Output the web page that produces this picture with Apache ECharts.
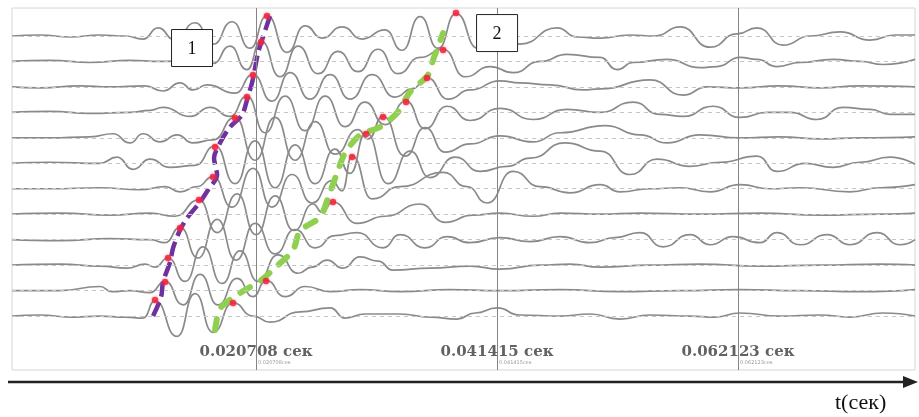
<!DOCTYPE html>
<html><head><meta charset="utf-8">
<script src="https://cdn.jsdelivr.net/npm/echarts@6/dist/echarts.min.js"></script>
<style>html,body{margin:0;padding:0;background:#fff}#c{width:919px;height:417px}</style>
</head><body><div id="c"></div>
<script>
// time in ms, amplitude in arbitrary units (positive = up), per trace
const traceBaselines = [275, 250, 225, 200, 175, 150, 125, 100, 75, 50, 25, 0];
const trace0 = [[-0.26,0],[2.15,1],[4.73,-1],[7.30,1],[9.45,0],[11.00,-3],[12.29,8],[13.75,-4],[15.47,13],[17.01,-8],[18.65,14],[20.19,-12],[21.65,20],[23.37,-16],[24.92,10],[26.38,-2],[28.10,9],[29.82,-3],[31.79,6],[33.25,-14],[34.80,19],[36.35,-12],[37.89,22],[39.78,-12],[41.67,-4],[43.39,-8],[46.57,8],[48.29,-1],[50.27,-2],[52.84,1],[54.99,0],[57.14,9],[59.72,-11],[62.04,2],[63.76,8],[65.99,-9],[68.31,0],[70.89,4],[73.47,-4],[75.61,1],[77.33,1]];
const trace1 = [[-0.26,0],[3.01,1],[6.44,-1],[9.88,1],[12.46,0],[15.04,1],[17.01,-2],[18.47,15],[19.93,-8],[21.14,20],[22.77,-15],[24.32,15],[26.04,-12],[27.75,10],[29.47,-10],[31.19,12],[32.91,-12],[34.80,4],[36.78,12],[38.67,-15],[40.81,-5],[42.79,-11],[45.11,0],[47.43,7],[50.27,4],[51.73,-8],[53.10,-1],[56.02,2],[58.86,-6],[60.32,-5],[62.30,4],[63.76,2],[65.47,-5],[67.45,-1],[70.29,2],[72.61,0],[74.58,-3],[77.33,2]];
const trace2 = [[-0.26,0],[2.15,-1],[5.59,1],[8.16,0],[11.17,1],[12.72,-4],[14.18,4],[15.29,-3],[16.50,2],[18.90,-6],[20.45,12],[22.08,-14],[23.63,14],[25.35,-12],[27.07,12],[28.79,-12],[30.68,12],[32.65,-10],[34.11,-2],[35.40,9],[37.21,-12],[39.10,-3],[41.67,6],[43.39,4],[45.97,2],[48.81,-3],[50.27,-2],[54.56,7],[57.40,-8],[59.46,0],[62.30,-1],[65.73,1],[69.17,-1],[72.61,1],[77.33,0]];
const trace3 = [[-0.26,0],[3.01,1],[6.44,-1],[9.88,0],[11.60,2],[12.72,5],[15.04,-4],[16.76,5],[18.47,-4],[19.93,16],[21.48,-20],[23.20,16],[24.92,-18],[26.64,16],[28.36,-14],[30.07,10],[31.79,-12],[33.60,11],[35.23,-16],[37.12,6],[39.10,-8],[41.67,4],[44.51,-7],[47.43,3],[50.27,0],[53.10,10],[55.42,-2],[57.40,-4],[59.98,6],[62.30,-5],[64.62,0],[66.59,0],[68.91,-7],[71.15,5],[73.47,3],[75.19,-2],[77.33,-2]];
const trace4 = [[-0.26,0],[3.01,0],[6.44,1],[8.42,4],[9.88,-5],[11.00,4],[12.46,-4],[13.92,3],[15.29,-5],[17.01,-2],[18.90,20],[20.62,-22],[22.34,20],[24.06,-22],[25.78,16],[27.50,-16],[29.47,8],[30.33,-1],[31.62,21],[33.51,-18],[35.23,10],[36.95,-14],[39.10,-6],[41.67,2],[44.51,-4],[46.83,5],[50.70,12],[53.70,3],[56.02,-5],[58.86,3],[62.30,0],[65.73,1],[69.17,-1],[72.61,0],[77.33,1]];
const trace5 = [[-0.26,0],[3.01,1],[7.30,0],[8.76,6],[10.14,-6],[11.60,4],[13.32,-4],[15.47,-2],[17.19,17],[18.90,-20],[20.62,22],[22.34,-24],[24.06,18],[25.78,-20],[27.50,14],[28.79,-10],[30.16,30],[32.05,-20],[33.94,12],[35.66,-14],[37.81,6],[39.96,-8],[42.28,-3],[44.25,5],[47.26,20],[50.27,12],[52.84,-11],[55.16,4],[58.00,-3],[60.58,1],[63.76,7],[65.47,-8],[67.88,0],[70.29,-4],[72.61,1],[75.19,6],[77.33,-1]];
const trace6 = [[-0.26,0],[3.01,0],[7.30,1],[10.74,-1],[12.89,2],[14.18,-3],[15.64,2],[17.01,12],[18.65,-18],[20.45,20],[22.08,-18],[23.80,14],[25.52,-14],[27.24,8],[28.10,-2],[28.96,32],[30.68,-10],[33.08,2],[36.78,16],[38.84,2],[40.56,-14],[42.79,17],[45.11,2],[47.69,-4],[50.27,4],[51.98,-3],[54.56,0],[57.14,1],[59.72,-3],[62.30,4],[64.87,0],[67.45,1],[71.75,-3],[74.33,1],[77.33,4]];
const trace7 = [[-0.26,0],[3.87,1],[8.16,-1],[11.60,1],[13.75,-2],[15.81,14],[17.36,-18],[19.08,20],[20.71,-20],[22.34,18],[23.97,-16],[25.61,10],[26.38,2],[27.32,12],[29.39,-9],[31.79,-2],[34.80,10],[36.95,-8],[39.35,-1],[41.67,1],[44.51,-2],[46.83,1],[50.27,0],[53.70,1],[58.86,0],[64.01,1],[69.17,-1],[74.33,0],[77.33,1]];
const trace8 = [[-0.26,0],[3.87,-1],[8.16,1],[11.60,0],[12.89,-3],[14.18,12],[15.72,-18],[17.36,20],[18.99,-20],[20.62,16],[22.34,-14],[24.06,10],[25.78,-8],[27.50,4],[29.39,7],[31.62,-8],[33.08,5],[35.23,-8],[37.12,3],[39.10,-3],[41.67,2],[44.25,-2],[46.83,3],[49.41,-3],[51.56,2],[53.70,7],[55.68,-7],[58.00,5],[59.72,-5],[61.69,3],[64.01,-3],[65.47,7],[67.45,-5],[69.77,5],[71.75,-5],[74.07,7],[76.04,-5],[77.33,0]];
const trace9 = [[-0.26,0],[3.87,1],[7.30,-1],[9.62,-3],[11.17,1],[12.03,-2],[13.15,7],[14.61,-16],[16.15,18],[17.79,-18],[19.33,14],[20.88,-16],[22.60,10],[24.32,-8],[25.52,-2],[26.81,5],[28.18,-3],[29.64,8],[31.19,4],[32.48,-5],[35.66,-3],[39.10,-1],[41.67,-4],[45.11,0],[47.69,1],[50.27,-2],[54.56,0],[58.86,1],[64.01,-1],[69.17,0],[74.33,1],[77.33,0]];
const trace10 = [[-0.26,0],[3.87,0],[7.30,4],[8.33,-1],[9.88,0],[11.60,-2],[12.89,9],[14.44,-14],[15.90,16],[17.44,-14],[19.08,12],[20.45,-6],[21.57,10],[23.20,-6],[24.92,4],[27.07,-1],[29.64,1],[33.08,-1],[37.38,1],[41.67,0],[46.83,1],[51.98,-1],[57.14,0],[62.30,1],[67.45,0],[72.61,-1],[77.33,1]];
const trace11 = [[-0.26,0],[2.15,1],[4.73,-1],[7.30,0],[9.45,-1],[11.00,-2],[12.03,15],[13.92,-20],[15.47,22],[17.01,-16],[18.73,13],[20.45,0],[21.91,-6],[24.49,4],[27.07,8],[28.36,-2],[30.07,2],[33.08,2],[35.66,-1],[37.98,-3],[39.53,3],[41.42,8],[43.39,1],[46.83,0],[49.41,2],[51.98,-3],[54.56,1],[58.00,0],[60.15,-1],[62.30,3],[65.73,0],[69.17,1],[71.75,-1],[74.58,3],[77.33,0]];
const traces = [trace0, trace1, trace2, trace3, trace4, trace5, trace6, trace7, trace8, trace9, trace10, trace11];

// picked arrival lines (ms, absolute value) and picked points
const purplePath = [[11.86,0],[12.55,18.7],[12.72,33.4],[13.32,53.0],[13.58,66.8],[14.18,84.5],[14.78,96.2],[15.90,112.0],[16.58,123.7],[17.36,138.5],[17.10,155.2],[17.61,169.9],[18.47,185.6],[19.50,197.4],[19.93,212.1],[20.36,228.8],[20.54,238.6],[20.88,258.3],[21.22,271.0],[21.91,294.6]];
const greenPath = [[17.19,-13.7],[17.44,2.0],[17.79,9.8],[19.33,22.6],[21.05,34.4],[22.51,49.1],[23.89,64.8],[24.49,83.5],[26.21,97.2],[26.89,115.9],[27.67,140.4],[28.36,160.1],[29.64,177.7],[31.36,185.6],[32.91,200.3],[33.94,220.0],[35.49,236.7],[35.92,251.4],[36.78,277.9]];
const purpleDots = [[21.65,294.6],[21.14,269.1],[20.45,236.7],[19.93,215.1],[18.90,194.4],[17.19,166.0],[17.01,136.5],[15.81,113.9],[14.18,86.4],[13.15,57.0],[12.89,33.4],[12.03,15.7]];
const greenDots = [[37.89,297.6],[36.78,261.2],[35.40,233.7],[33.60,210.2],[31.62,195.4],[30.16,178.7],[28.96,156.1],[27.32,112.0],[21.57,34.4],[18.73,12.8]];

const tickTimesMs = [20.708, 41.415, 62.123];
const tickLabels = ['0.020708 сек', '0.041415 сек', '0.062123 сек'];
const tickSubLabels = ['0.020708сек', '0.041415сек', '0.062123сек'];
const markerLabels = ['1', '2'];
const markerAnchors = [[15.21, 263.2], [41.42, 277.9]];
const axisTitle = 't(сек)';

const chart = echarts.init(document.getElementById('c'), null, {renderer: 'canvas'});

const series = traces.map((tr, k) => ({
  type: 'line', silent: true, symbol: 'none', smooth: 0.55, smoothMonotone: 'x', z: 2,
  lineStyle: {color: '#8a8a8a', width: 1.7},
  data: tr.map(p => [p[0], traceBaselines[k] + p[1]])
}));
series[0].markLine = {
  silent: true, symbol: 'none', label: {show: false},
  data: traceBaselines.map(v => ({yAxis: v, lineStyle: {type: [4, 4], color: '#c6c6c6', width: 1}}))
    .concat(tickTimesMs.map(t => ({xAxis: t, lineStyle: {type: 'solid', color: '#858585', width: 1}})))
};
series.push({
  type: 'line', silent: true, symbol: 'none', smooth: 0.3, z: 3,
  lineStyle: {color: '#7030a0', width: 4.5, type: [15, 6]}, data: purplePath
});
series.push({
  type: 'line', silent: true, symbol: 'none', smooth: 0.3, z: 3,
  lineStyle: {color: '#8fd14f', width: 6, type: [11, 13], cap: 'round'}, data: greenPath
});
series.push({
  type: 'scatter', silent: true, symbolSize: 6.5, z: 4,
  itemStyle: {color: '#f01e32', shadowBlur: 3, shadowColor: 'rgba(255,90,130,0.8)'},
  data: purpleDots.concat(greenDots)
});

chart.setOption({
  animation: false,
  backgroundColor: '#fff',
  grid: {left: 12, right: 4, top: 8, bottom: 47, show: true, borderColor: '#d6d6d6', borderWidth: 1, backgroundColor: 'transparent'},
  xAxis: {type: 'value', min: -0.26, max: 77.33, axisLine: {show: false}, axisTick: {show: false}, axisLabel: {show: false}, splitLine: {show: false}},
  yAxis: {type: 'value', min: -53, max: 302.5, axisLine: {show: false}, axisTick: {show: false}, axisLabel: {show: false}, splitLine: {show: false}},
  series: series
});

const W = chart.getWidth();
const gridBottom = chart.getHeight() - 47;
const graphic = [];
tickTimesMs.forEach((t, i) => {
  const x = chart.convertToPixel({gridIndex: 0}, [t, 0])[0];
  graphic.push({type: 'text', z: 10, x: x, y: gridBottom - 18, style: {text: tickLabels[i], fill: '#626262', font: 'bold 15px "DejaVu Serif"', align: 'center', verticalAlign: 'middle'}});
  graphic.push({type: 'text', z: 10, x: x + 2, y: gridBottom - 7, style: {text: tickSubLabels[i], fill: '#9a9a9a', font: '5px "DejaVu Sans"', align: 'left', verticalAlign: 'middle'}});
});
markerAnchors.forEach((a, i) => {
  const p = chart.convertToPixel({gridIndex: 0}, a);
  graphic.push({type: 'rect', z: 20, shape: {x: p[0] - 20.5, y: p[1] - 18.5, width: 41, height: 37}, style: {fill: '#fff', stroke: '#222', lineWidth: 1}});
  graphic.push({type: 'text', z: 21, x: p[0], y: p[1] + 1, style: {text: markerLabels[i], fill: '#111', font: '18px "Liberation Serif"', align: 'center', verticalAlign: 'middle'}});
});
const ay = gridBottom + 12;
graphic.push({type: 'line', z: 10, shape: {x1: 8, y1: ay, x2: W - 14, y2: ay}, style: {stroke: '#222', lineWidth: 2.5}});
graphic.push({type: 'polygon', z: 10, shape: {points: [[W - 16, ay - 6], [W - 1, ay], [W - 16, ay + 6]]}, style: {fill: '#222'}});
graphic.push({type: 'text', z: 10, x: W - 84, y: ay + 21, style: {text: axisTitle, fill: '#111', font: '22px "Liberation Serif"', align: 'left', verticalAlign: 'middle'}});
chart.setOption({graphic: graphic});
</script></body></html>
